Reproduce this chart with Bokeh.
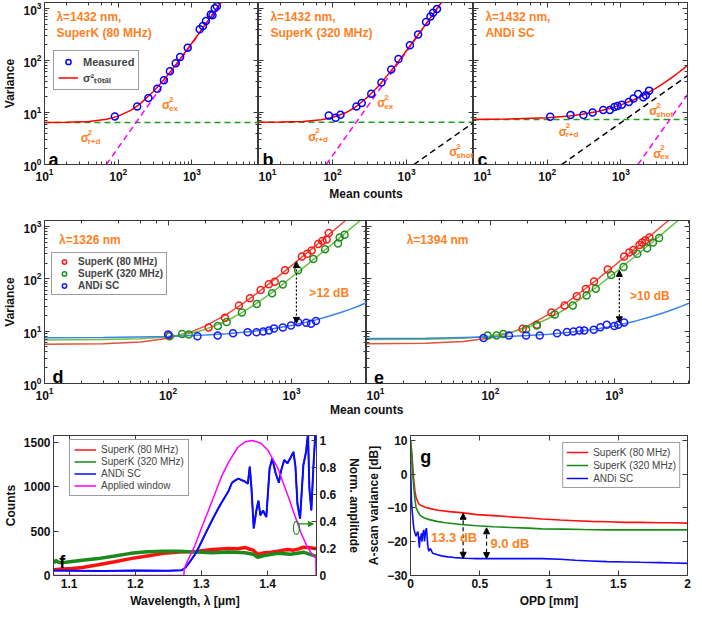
from bokeh.plotting import figure
from bokeh.models import (Range1d, LogAxis, LinearAxis, Label, Legend, LegendItem,
                          Arrow, NormalHead, Div, FixedTicker)
from bokeh.layouts import row, column
from bokeh.embed import file_html
from bokeh.resources import INLINE

FONT = "Liberation Sans"
ORANGE = "#FF7F1E"
AX = "#3a3a3a"

# ---------------- data: panel a (SuperK 80 MHz, 1432 nm) ----------------
a_meas_x = [90, 181, 257, 339, 417, 503, 603, 692, 877, 1276, 1410, 1550, 1800, 1900, 2040, 2180]
a_meas_y = [8.4, 13, 19, 28.7, 41.5, 62, 88, 117, 176, 398, 459, 574, 763, 740, 1010, 1100]
a_fit_x = [10, 20, 40, 70, 100, 150, 200, 300, 400, 500, 700, 1000, 1400, 1800, 2200, 2600]
a_fit_y = [6.42, 6.48, 6.74, 7.43, 8.5, 11.1, 14.8, 25.3, 40, 58.9, 109, 216, 418, 687, 1023, 1426]
a_rd_x = [10, 8000]
a_rd_y = [6.4, 6.4]
a_ex_x = [69, 2600]
a_ex_y = [1, 1420]

# ---------------- panel b (SuperK 320 MHz, 1432 nm) ----------------
b_meas_x = [89, 110, 128, 210, 248, 333, 457, 620, 776, 1107, 1429, 1830, 2100, 2280, 2570]
b_meas_y = [8.7, 7.9, 9.0, 13, 15.2, 23, 37.6, 67, 107, 196, 316, 548, 697, 830, 970]
b_fit_x = [10, 20, 40, 70, 100, 150, 200, 300, 400, 500, 700, 1000, 1400, 1800, 2200, 2600, 3000]
b_fit_y = [6.51, 6.56, 6.74, 7.23, 7.99, 9.85, 12.45, 19.9, 30.3, 43.7, 79.4, 155, 298, 488, 726, 1012, 1345]
b_rd_x = [10, 8000]
b_rd_y = [6.5, 6.5]
b_ex_x = [82, 3000]
b_ex_y = [1, 1338]
b_shot_x = [1250, 8000]
b_shot_y = [1, 6.4]

# ---------------- panel c (ANDi SC, 1432 nm) ----------------
c_meas_x = [110, 207, 310, 413, 575, 708, 817, 902, 1030, 1280, 1480, 1710, 2010, 2180, 2410]
c_meas_y = [8.3, 8.9, 8.9, 10, 11.1, 11.1, 12.8, 13.3, 14.1, 15.9, 18.6, 22.7, 19.6, 21.4, 26.3]
c_fit_x = [10, 30, 100, 200, 300, 500, 700, 1000, 1500, 2000, 3000, 4000, 5000, 6000, 7000, 8000]
c_fit_y = [7.36, 7.49, 7.94, 8.58, 9.24, 10.57, 11.93, 14.0, 17.6, 21.4, 29.5, 38.3, 47.8, 58, 68.9, 80.4]
c_rd_x = [10, 8000]
c_rd_y = [7.3, 7.3]
c_ex_x = [1700, 8000]
c_ex_y = [1, 22]
c_shot_x = [157, 8000]
c_shot_y = [1, 51]

# ---------------- panel d (1326 nm) ----------------
d_r_x = [102, 213, 289, 375, 460, 562, 655, 730, 885, 1213, 1337, 1455, 1643, 1778, 1923, 2000]
d_r_y = [8.3, 11.8, 18, 31, 42.7, 61, 79, 87.5, 146, 267, 300, 346, 460, 525, 563, 750]
d_g_x = [103, 130, 147, 253, 298, 396, 523, 695, 849, 1130, 1500, 1866, 2376, 2450, 2686]
d_g_y = [8.0, 8.8, 8.6, 12.6, 15, 22.7, 33, 53, 78, 146, 238, 366, 474, 614, 698]
d_b_x = [100, 173, 252, 336, 441, 520, 590, 655, 721, 849, 989, 1130, 1314, 1438, 1575]
d_b_y = [8.6, 8.0, 8.3, 9.1, 9.5, 9.5, 9.9, 10.3, 11.3, 11.8, 12.8, 14.8, 14.4, 13.8, 15.7]
d_rf_x = [10, 30, 60, 100, 150, 200, 300, 400, 500, 700, 1000, 1500, 2000, 2500, 3000]
d_rf_y = [5.62, 5.76, 6.22, 7.33, 9.5, 12.5, 21.2, 33.3, 48.9, 90.4, 179, 395, 698, 1088, 1564]
d_gf_x = [10, 30, 60, 100, 150, 200, 300, 400, 500, 700, 1000, 1500, 2000, 2500, 3000, 3600]
d_gf_y = [6.81, 6.89, 7.16, 7.8, 9.05, 10.8, 15.8, 22.8, 31.8, 55.8, 107, 232, 407, 632, 907, 1303]
d_bf_x = [10, 30, 100, 200, 300, 500, 700, 1000, 1500, 2000, 2500, 3000, 3500, 4040]
d_bf_y = [7.45, 7.55, 7.9, 8.42, 8.94, 10.0, 11.1, 12.8, 15.9, 19.2, 22.7, 26.4, 30.3, 35.0]

# ---------------- panel e (1394 nm) ----------------
e_r_x = [182, 237, 311, 397, 497, 589, 686, 885, 1200, 1321, 1422, 1596, 1675, 1780, 1916]
e_r_y = [11.1, 13.2, 22.7, 31, 46.5, 63.8, 88.7, 151, 267, 317, 355, 441, 495, 547, 614]
e_g_x = [95, 112, 127, 194, 237, 331, 462, 597, 708, 942, 1186, 1530, 1838, 2048, 2297]
e_g_y = [8.3, 8.3, 8.8, 10.9, 12.8, 20.9, 31, 47.9, 64.7, 118, 169, 300, 382, 495, 603]
e_b_x = [88, 141, 194, 250, 345, 414, 468, 523, 572, 682, 771, 869, 1000, 1076, 1200]
e_b_y = [7.4, 8.3, 8.3, 8.3, 9.1, 9.6, 9.9, 10.3, 10.3, 10.6, 11.9, 13.2, 12.6, 13.2, 14.6]
e_rf_x = [10, 30, 60, 100, 150, 200, 300, 400, 500, 700, 1000, 1500, 2000, 2500, 3000]
e_rf_y = [5.72, 5.86, 6.32, 7.43, 9.6, 12.6, 21.3, 33.4, 49.0, 90.5, 179, 395, 698, 1088, 1564]
e_gf_x = [10, 30, 60, 100, 150, 200, 300, 400, 500, 700, 1000, 1500, 2000, 2500, 3000, 3300]
e_gf_y = [6.91, 7.01, 7.33, 8.11, 9.62, 11.7, 17.8, 26.2, 37.1, 66.1, 128, 279, 490, 762, 1094, 1322]
e_bf_x = [10, 30, 100, 200, 300, 500, 700, 1000, 1500, 2000, 2500, 3000, 3500, 4040]
e_bf_y = [7.25, 7.35, 7.7, 8.22, 8.74, 9.81, 10.9, 12.6, 15.7, 19.0, 22.5, 26.2, 30.1, 34.5]

# arrows (x, y_top, y_bottom)
d_arrow = [1094, 213, 14.1]
e_arrow = [1097, 145, 14.5]

# ---------------- panel f (spectra) ----------------
f_red_x = [1.077, 1.090, 1.105, 1.120, 1.144, 1.169, 1.193, 1.218, 1.243, 1.267, 1.292, 1.316,
           1.341, 1.355, 1.366, 1.372, 1.378, 1.385, 1.395, 1.405, 1.415, 1.430, 1.439, 1.447,
           1.454, 1.462, 1.469, 1.474]
f_red_y = [66, 72, 80, 91, 121, 154, 190, 220, 249, 263, 270, 293, 304, 300, 316, 298, 285, 238,
           256, 262, 274, 293, 285, 300, 318, 314, 306, 300]
f_grn_x = [1.077, 1.080, 1.085, 1.095, 1.120, 1.144, 1.169, 1.193, 1.218, 1.243, 1.267, 1.292,
           1.316, 1.341, 1.366, 1.378, 1.385, 1.395, 1.415, 1.435, 1.454, 1.465, 1.474]
f_grn_y = [140, 170, 145, 150, 172, 190, 220, 249, 267, 274, 274, 263, 256, 263, 256, 240, 205,
           225, 249, 238, 262, 235, 215]
f_blu_x = [1.077, 1.150, 1.200, 1.250, 1.270, 1.276, 1.284, 1.292, 1.304, 1.316, 1.328, 1.341,
           1.346, 1.351, 1.356, 1.360, 1.365, 1.370, 1.373, 1.3755, 1.379, 1.383, 1.386, 1.389,
           1.393, 1.398, 1.403, 1.407, 1.412, 1.417, 1.420, 1.425, 1.430, 1.434, 1.439, 1.442,
           1.445, 1.449, 1.454, 1.458, 1.461, 1.463, 1.466, 1.469, 1.472, 1.474]
f_blu_y = [55, 52, 55, 53, 58, 90, 170, 256, 440, 622, 790, 951, 1043, 1070, 1090, 1075, 1061,
           1032, 1226, 988, 530, 732, 842, 677, 732, 659, 1207, 1317, 1153, 1043, 1171, 1299,
           1262, 1317, 1390, 1226, 805, 640, 1244, 1390, 1600, 988, 732, 1207, 1600, 1500]
f_win_x = [1.077, 1.2735, 1.274, 1.280, 1.290, 1.300, 1.316, 1.330, 1.341, 1.355, 1.366, 1.377,
           1.390, 1.400, 1.415, 1.430, 1.440, 1.450, 1.460, 1.468, 1.4728, 1.4732]
f_win_y = [0, 0, 0.05, 0.12, 0.22, 0.35, 0.55, 0.73, 0.84, 0.95, 0.99, 1.0, 0.98, 0.93, 0.80,
           0.60, 0.46, 0.32, 0.21, 0.15, 0.13, 0]
f_mark = [1.4435, 535]          # green ellipse marking the window curve
f_mark_arrow = [1.4475, 1.469, 580]

# ---------------- panel g (A-scan variance) ----------------
g_red_x = [0, 0.005, 0.012, 0.018, 0.024, 0.032, 0.040, 0.059, 0.08, 0.106, 0.15, 0.2, 0.28,
           0.365, 0.48, 0.6, 0.72, 0.85, 0.95, 1.08, 1.19, 1.3, 1.42, 1.55, 1.66, 1.8, 1.9, 2.0]
g_red_y = [10, 8, 4.7, 1, -2, -5, -6.9, -8.8, -9.4, -9.8, -10.3, -10.7, -11.1, -11.4, -12.0,
           -12.3, -12.65, -13.0, -13.3, -13.6, -13.8, -14.0, -14.1, -14.3, -14.3, -14.4, -14.4, -14.5]
g_grn_x = [0, 0.005, 0.012, 0.018, 0.024, 0.032, 0.040, 0.055, 0.07, 0.1, 0.13, 0.19, 0.25,
           0.365, 0.48, 0.6, 0.72, 0.85, 0.95, 1.1, 1.25, 1.42, 1.6, 1.8, 2.0]
g_grn_y = [10, 8, 3.7, -1, -4, -7.5, -9.8, -11.3, -12.2, -13.0, -13.4, -14.0, -14.4, -14.9,
           -15.3, -15.6, -15.8, -16.0, -16.2, -16.3, -16.4, -16.5, -16.5, -16.5, -16.5]
g_blu_x = [0, 0.003, 0.007, 0.012, 0.016, 0.021, 0.026, 0.033, 0.040, 0.047, 0.054, 0.059,
           0.064, 0.069, 0.074, 0.078, 0.083, 0.087, 0.092, 0.096, 0.101, 0.106, 0.110, 0.115,
           0.120, 0.125, 0.130, 0.134, 0.141, 0.148, 0.155, 0.160, 0.19, 0.224, 0.27, 0.318,
           0.40, 0.48, 0.6, 0.72, 0.85, 0.95, 1.08, 1.19, 1.3, 1.42, 1.55, 1.66, 1.8, 1.9, 2.0]
g_blu_y = [3.7, -2, -7.8, -11, -12.7, -15, -16.5, -17.5, -18.4, -17.5, -17, -19.5, -21.8,
           -18.5, -19.4, -17.5, -20, -18, -17.2, -16.5, -19.9, -18, -16.8, -16, -18.5, -21.3,
           -22.5, -22.8, -22.0, -22.3, -23.0, -23.4, -23.8, -24.2, -24.5, -24.7, -24.9, -25.0,
           -25.0, -25.0, -25.0, -25.0, -25.2, -25.5, -25.7, -25.9, -26.0, -26.1, -26.2, -26.3, -26.4]
g_arrows = [[0.38, -11.6, -24.9], [0.549, -15.9, -25.0]]
g_texts = ["13.3 dB", "9.0 dB"]


# ---------------- helpers ----------------
def style_axis(ax, labels=True, size="12px"):
    ax.axis_line_color = AX
    ax.major_tick_line_color = AX
    ax.minor_tick_line_color = AX
    ax.major_tick_in = 5
    ax.major_tick_out = 0
    ax.minor_tick_in = 3
    ax.minor_tick_out = 0
    ax.major_label_standoff = 3
    ax.axis_label_standoff = 3
    ax.axis_label_text_font = FONT
    ax.axis_label_text_font_style = "bold"
    ax.axis_label_text_font_size = "12px"
    ax.axis_label_text_color = "#111111"
    if labels:
        ax.major_label_text_font = FONT
        ax.major_label_text_font_style = "bold"
        ax.major_label_text_font_size = size
        ax.major_label_text_color = "#111111"
    else:
        ax.major_label_text_color = None


def borders(p, l, r, t, b):
    p.min_border_left = l
    p.min_border_right = r
    p.min_border_top = t
    p.min_border_bottom = b


def log_fig(xmax, fw, fh, bl, br, bt, bb, ylab=None, xlab=None, ylabels=True):
    p = figure(x_axis_type="log", y_axis_type="log", x_range=Range1d(10, xmax),
               y_range=Range1d(1, 1300), frame_width=fw, frame_height=fh,
               output_backend="svg", toolbar_location=None)
    borders(p, bl, br, bt, bb)
    p.xgrid.visible = False
    p.ygrid.visible = False
    p.outline_line_color = AX
    style_axis(p.xaxis[0], True)
    p.xaxis[0].axis_label = xlab
    style_axis(p.yaxis[0], ylabels)
    p.yaxis[0].axis_label = ylab
    top = LogAxis()
    style_axis(top, False)
    p.add_layout(top, "above")
    rgt = LogAxis()
    style_axis(rgt, False)
    p.add_layout(rgt, "right")
    return p


def txt(p, x, y, text, size="12px", color=ORANGE, style="bold", baseline="middle",
        align="left", xo=0, yo=0):
    p.add_layout(Label(x=x, y=y, text=text, text_font=FONT, text_font_size=size,
                       text_font_style=style, text_color=color, text_baseline=baseline,
                       text_align=align, x_offset=xo, y_offset=yo))


def sigma(p, x, y, sub):
    txt(p, x, y, "σ", size="12px")
    txt(p, x, y, "2", size="8px", xo=7, yo=6)
    txt(p, x, y, sub, size="8px", xo=7, yo=-3)


def dbl_arrow(p, x, y0, y1, dash):
    p.add_layout(Arrow(start=NormalHead(size=6, fill_color="black", line_color="black"),
                       end=NormalHead(size=6, fill_color="black", line_color="black"),
                       x_start=x, y_start=y0, x_end=x, y_end=y1,
                       line_color="black", line_width=1.2, line_dash=dash))


def legend(p, items, loc, bold=True, size="11px", gw=20, gh=12, pad=4, sp=1):
    lg = Legend(items=items, location=loc, label_text_font=FONT,
                label_text_font_style="bold" if bold else "normal",
                label_text_font_size=size, glyph_width=gw, glyph_height=gh, label_height=gh,
                spacing=sp, padding=pad, margin=0, label_standoff=5,
                border_line_color=AX, border_line_width=1, background_fill_alpha=1)
    p.add_layout(lg)


GRN_D = "#1E9E1E"
MAG = "#FF00FF"
RED = "#FF0000"
BLU = "#0000FF"
DASH = "6 4"

# ---------------- row 1 ----------------
pa = log_fig(8000, 214, 162, 41, 0, 2, 36, ylab="Variance")
pb = log_fig(8000, 215, 162, 0, 0, 2, 36, xlab="Mean counts", ylabels=False)
pc = log_fig(8000, 214, 162, 0, 1, 2, 36, ylabels=False)

pa.line(a_rd_x, a_rd_y, color=GRN_D, line_dash=DASH, line_width=1.5)
pa.line(a_ex_x, a_ex_y, color=MAG, line_dash=DASH, line_width=1.5)
ra_fit = pa.line(a_fit_x, a_fit_y, color=RED, line_width=1.5)
ra_meas = pa.scatter(a_meas_x, a_meas_y, marker="circle", size=7, fill_color=None,
                     line_color=BLU, line_width=1.5)
legend(pa, [LegendItem(label="Measured", renderers=[ra_meas]),
            LegendItem(label="σ²ₜₒₜₐₗ", renderers=[ra_fit])], (9, 74), gw=20, gh=13, pad=4, sp=2)

pb.line(b_rd_x, b_rd_y, color=GRN_D, line_dash=DASH, line_width=1.5)
pb.line(b_ex_x, b_ex_y, color=MAG, line_dash=DASH, line_width=1.5)
pb.line(b_shot_x, b_shot_y, color="black", line_dash=DASH, line_width=1.5)
pb.line(b_fit_x, b_fit_y, color=RED, line_width=1.5)
pb.scatter(b_meas_x, b_meas_y, marker="circle", size=7, fill_color=None, line_color=BLU, line_width=1.5)

pc.line(c_rd_x, c_rd_y, color=GRN_D, line_dash=DASH, line_width=1.5)
pc.line(c_ex_x, c_ex_y, color=MAG, line_dash=DASH, line_width=1.5)
pc.line(c_shot_x, c_shot_y, color="black", line_dash=DASH, line_width=1.5)
pc.line(c_fit_x, c_fit_y, color=RED, line_width=1.5)
pc.scatter(c_meas_x, c_meas_y, marker="circle", size=7, fill_color=None, line_color=BLU, line_width=1.5)

for p, l2 in [(pa, "SuperK (80 MHz)"), (pb, "SuperK (320 MHz)"), (pc, "ANDi SC")]:
    txt(p, 14.5, 930, "λ=1432 nm,", baseline="top")
    txt(p, 14.5, 465, l2, baseline="top")
for p, letter in [(pa, "a"), (pb, "b"), (pc, "c")]:
    txt(p, 11.3, 1.24, letter, size="18px", color="black", baseline="alphabetic")

sigma(pa, 392, 13.9, "ex")
sigma(pa, 31, 3.2, "r+d")
sigma(pb, 401, 15.2, "ex")
sigma(pb, 47, 3.45, "r+d")
sigma(pb, 3770, 1.73, "shot")
sigma(pc, 2420, 10.6, "shot")
sigma(pc, 143, 4.3, "r+d")
sigma(pc, 2750, 1.61, "ex")

# ---------------- row 2 ----------------
RL, GL, BL = "#E8503A", "#6CC24A", "#3B83E8"
RM, GM, BM = "#FF1A1A", "#1F8F1F", "#1A1AFF"
pd = log_fig(4040, 322, 163, 39, 0, 17, 19, ylab="Variance")
pe = log_fig(4040, 323, 163, 0, 1, 17, 19, ylabels=False)

pd.line(d_rf_x, d_rf_y, color=RL, line_width=1.5)
pd.line(d_gf_x, d_gf_y, color=GL, line_width=1.5)
pd.line(d_bf_x, d_bf_y, color=BL, line_width=1.5)
rd_r = pd.scatter(d_r_x, d_r_y, marker="circle", size=7, fill_color=None, line_color=RM, line_width=1.5)
rd_g = pd.scatter(d_g_x, d_g_y, marker="circle", size=7, fill_color=None, line_color=GM, line_width=1.5)
rd_b = pd.scatter(d_b_x, d_b_y, marker="circle", size=7, fill_color=None, line_color=BM, line_width=1.5)
legend(pd, [LegendItem(label="SuperK (80 MHz)", renderers=[rd_r]),
            LegendItem(label="SuperK (320 MHz)", renderers=[rd_g]),
            LegendItem(label="ANDi SC", renderers=[rd_b])], (7, 88),
       size="10px", gw=18, gh=11, pad=3, sp=1)

pe.line(e_rf_x, e_rf_y, color=RL, line_width=1.5)
pe.line(e_gf_x, e_gf_y, color=GL, line_width=1.5)
pe.line(e_bf_x, e_bf_y, color=BL, line_width=1.5)
pe.scatter(e_r_x, e_r_y, marker="circle", size=7, fill_color=None, line_color=RM, line_width=1.5)
pe.scatter(e_g_x, e_g_y, marker="circle", size=7, fill_color=None, line_color=GM, line_width=1.5)
pe.scatter(e_b_x, e_b_y, marker="circle", size=7, fill_color=None, line_color=BM, line_width=1.5)

dbl_arrow(pd, d_arrow[0], d_arrow[1], d_arrow[2], "2 2")
dbl_arrow(pe, e_arrow[0], e_arrow[1], e_arrow[2], "2 2")
txt(pd, 1393, 54.6, ">12 dB")
txt(pe, 1340, 47.4, ">10 dB")
txt(pd, 13.1, 760, "λ=1326 nm", baseline="top")
txt(pe, 21.1, 760, "λ=1394 nm", baseline="top")
txt(pd, 11.6, 1.33, "d", size="18px", color="black", baseline="alphabetic")
txt(pe, 11.5, 1.33, "e", size="18px", color="black", baseline="alphabetic")

mc = Div(text=('<div style="padding-left:330px;white-space:nowrap;text-align:left;'
               'font-family:\'Liberation Sans\',Arial,sans-serif;font-weight:bold;'
               'font-size:12px;line-height:14px;color:#111111;">Mean counts</div>'),
         width=686, height=14, margin=(0, 0, 0, 0))

# ---------------- row 3: panel f ----------------
FR, FG, FB = "#FF1010", "#1A8A1A", "#0A0AFF"
pf = figure(x_range=Range1d(1.0765, 1.4738), y_range=Range1d(0, 1575),
            frame_width=263, frame_height=140, output_backend="svg", toolbar_location=None)
borders(pf, 53, 46, 19, 34)
pf.extra_y_ranges = {"win": Range1d(0, 1.037)}
pf.xgrid.visible = False
pf.ygrid.visible = False
pf.outline_line_color = AX
pf.xaxis[0].ticker = FixedTicker(ticks=[1.1, 1.2, 1.3, 1.4])
pf.xaxis[0].axis_label = "Wavelength, λ [μm]"
style_axis(pf.xaxis[0])
pf.yaxis[0].ticker = FixedTicker(ticks=[0, 500, 1000, 1500])
pf.yaxis[0].axis_label = "Counts"
style_axis(pf.yaxis[0])
fr_ax = LinearAxis(y_range_name="win", axis_label="Norm. amplitude",
                   ticker=FixedTicker(ticks=[0, 0.2, 0.4, 0.6, 0.8, 1.0]))
style_axis(fr_ax)
fr_ax.axis_label_standoff = 8
fr_ax.major_label_overrides = {0: "0", 1: "1"}
pf.add_layout(fr_ax, "right")
ft_ax = LinearAxis(ticker=FixedTicker(ticks=[1.1, 1.2, 1.3, 1.4]))
style_axis(ft_ax, False)
pf.add_layout(ft_ax, "above")

# thin copies (used as legend samples), hidden under the thick noisy bands
lf_r = pf.line(f_red_x, f_red_y, color=FR, line_width=1.5)
lf_g = pf.line(f_grn_x, f_grn_y, color=FG, line_width=1.5)
lf_b = pf.line(f_blu_x, f_blu_y, color=FB, line_width=1.5)
pf.line(f_red_x, f_red_y, color=FR, line_width=3.5)
pf.line(f_grn_x, f_grn_y, color=FG, line_width=3.5)
pf.line(f_blu_x, f_blu_y, color=FB, line_width=2)
rf_w = pf.line(f_win_x, f_win_y, color=MAG, line_width=1.5, y_range_name="win")
legend(pf, [LegendItem(label="SuperK (80 MHz)", renderers=[lf_r]),
            LegendItem(label="SuperK (320 MHz)", renderers=[lf_g]),
            LegendItem(label="ANDi SC", renderers=[lf_b]),
            LegendItem(label="Applied window", renderers=[rf_w])], (16, 79),
       bold=False, size="10px", gw=22, gh=11, pad=4, sp=1)
pf.ellipse(x=[f_mark[0]], y=[f_mark[1]], width=6, height=13, width_units="screen",
           height_units="screen", fill_color=None, line_color=FG, line_width=1.2)
pf.add_layout(Arrow(end=NormalHead(size=5, fill_color=FG, line_color=FG), start=None,
                    x_start=f_mark_arrow[0], y_start=f_mark_arrow[2], x_end=f_mark_arrow[1],
                    y_end=f_mark_arrow[2], line_color=FG, line_width=1.2))
txt(pf, 1.085, 150, "f", size="18px", color="black", baseline="alphabetic")

# ---------------- row 3: panel g ----------------
pg = figure(x_range=Range1d(0, 2), y_range=Range1d(-30, 11.4),
            frame_width=277, frame_height=140, output_backend="svg", toolbar_location=None)
borders(pg, 43, 4, 19, 34)
pg.xgrid.visible = False
pg.ygrid.visible = False
pg.outline_line_color = AX
pg.xaxis[0].ticker = FixedTicker(ticks=[0, 0.5, 1, 1.5, 2])
pg.xaxis[0].axis_label = "OPD [mm]"
pg.xaxis[0].major_label_overrides = {0: "0", 1: "1", 2: "2"}
style_axis(pg.xaxis[0])
pg.yaxis[0].ticker = FixedTicker(ticks=[-30, -20, -10, 0, 10])
pg.yaxis[0].axis_label = "A-scan variance [dB]"
pg.yaxis[0].major_label_overrides = {-30: "−30", -20: "−20", -10: "−10"}
style_axis(pg.yaxis[0])
g_top = LinearAxis(ticker=FixedTicker(ticks=[0, 0.5, 1, 1.5, 2]))
style_axis(g_top, False)
pg.add_layout(g_top, "above")
g_rgt = LinearAxis(ticker=FixedTicker(ticks=[-30, -20, -10, 0, 10]))
style_axis(g_rgt, False)
pg.add_layout(g_rgt, "right")

rg_r = pg.line(g_red_x, g_red_y, color=FR, line_width=1.6)
rg_g = pg.line(g_grn_x, g_grn_y, color=FG, line_width=1.6)
rg_b = pg.line(g_blu_x, g_blu_y, color=FB, line_width=1.6)
legend(pg, [LegendItem(label="SuperK (80 MHz)", renderers=[rg_r]),
            LegendItem(label="SuperK (320 MHz)", renderers=[rg_g]),
            LegendItem(label="ANDi SC", renderers=[rg_b])], "top_right",
       bold=False, size="10px", gw=22, gh=12, pad=3, sp=1)
pg.legend[0].margin = 7
for (ax_x, y0, y1) in g_arrows:
    dbl_arrow(pg, ax_x, y0, y1, "4 3")
txt(pg, 0.148, -18.9, g_texts[0], size="13px")
txt(pg, 0.577, -20.6, g_texts[1], size="13px")
txt(pg, 0.071, 5.1, "g", size="18px", color="black", baseline="alphabetic")

layout = column(row(pa, pb, pc, spacing=0), row(pd, pe, spacing=0), mc,
                row(pf, pg, spacing=0), spacing=0)

open("out.html", "w").write(file_html(layout, INLINE))
